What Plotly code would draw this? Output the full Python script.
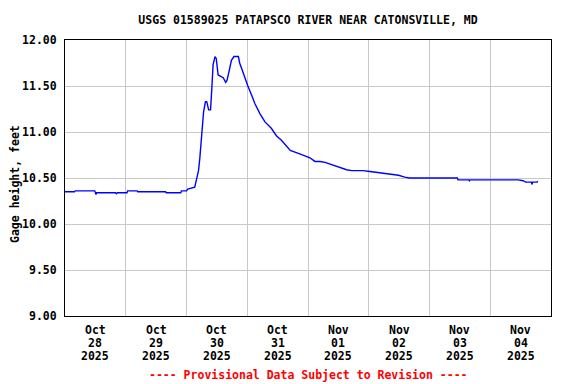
import plotly.graph_objects as go

title = "USGS 01589025 PATAPSCO RIVER NEAR CATONSVILLE, MD"
y_title = "Gage height, feet"
footer = "---- Provisional Data Subject to Revision ----"

times = [
    "2025-10-28 00:00", "2025-10-28 03:45", "2025-10-28 04:00", "2025-10-28 11:45",
    "2025-10-28 12:15", "2025-10-28 12:30", "2025-10-28 20:00", "2025-10-28 20:15",
    "2025-10-28 20:45", "2025-10-29 00:30", "2025-10-29 00:45", "2025-10-29 04:30",
    "2025-10-29 04:45", "2025-10-29 15:45", "2025-10-29 16:00", "2025-10-29 21:45",
    "2025-10-29 22:00", "2025-10-30 00:00", "2025-10-30 00:30", "2025-10-30 02:00",
    "2025-10-30 03:15", "2025-10-30 04:00", "2025-10-30 04:45", "2025-10-30 05:15",
    "2025-10-30 06:00", "2025-10-30 06:15", "2025-10-30 06:45", "2025-10-30 07:30",
    "2025-10-30 08:00", "2025-10-30 08:45", "2025-10-30 09:30", "2025-10-30 10:00",
    "2025-10-30 10:30", "2025-10-30 11:15", "2025-10-30 11:45", "2025-10-30 12:30",
    "2025-10-30 13:30", "2025-10-30 14:30", "2025-10-30 15:30", "2025-10-30 16:00",
    "2025-10-30 16:45", "2025-10-30 17:45", "2025-10-30 18:45", "2025-10-30 20:30",
    "2025-10-30 21:00", "2025-10-30 22:00", "2025-10-30 23:00", "2025-10-31 00:15",
    "2025-10-31 01:45", "2025-10-31 03:00", "2025-10-31 05:00", "2025-10-31 07:00",
    "2025-10-31 09:30", "2025-10-31 11:30", "2025-10-31 13:30", "2025-10-31 17:00",
    "2025-10-31 21:00", "2025-11-01 00:45", "2025-11-01 02:45", "2025-11-01 04:45",
    "2025-11-01 06:45", "2025-11-01 08:45", "2025-11-01 10:45", "2025-11-01 13:15",
    "2025-11-01 15:15", "2025-11-01 17:15", "2025-11-01 21:45", "2025-11-02 00:30",
    "2025-11-02 04:30", "2025-11-02 09:00", "2025-11-02 11:45", "2025-11-02 14:15",
    "2025-11-02 16:00", "2025-11-03 11:00", "2025-11-03 11:15", "2025-11-03 15:30",
    "2025-11-03 15:45", "2025-11-03 16:00", "2025-11-04 11:00", "2025-11-04 13:00",
    "2025-11-04 14:00", "2025-11-04 16:15", "2025-11-04 16:30", "2025-11-04 16:45",
    "2025-11-04 18:30", "2025-11-04 18:45",
]
gage = [
    10.35, 10.35, 10.36, 10.36,
    10.32, 10.34, 10.34, 10.33,
    10.34, 10.34, 10.36, 10.36,
    10.35, 10.35, 10.34, 10.34,
    10.36, 10.36, 10.38, 10.39,
    10.40, 10.49, 10.58, 10.71,
    10.96, 11.07, 11.22, 11.33,
    11.33, 11.24, 11.24, 11.47,
    11.73, 11.82, 11.80, 11.62,
    11.60, 11.59, 11.54, 11.56,
    11.65, 11.78, 11.82, 11.82,
    11.75, 11.67, 11.60, 11.50,
    11.40, 11.31, 11.20, 11.11,
    11.04, 10.96, 10.91, 10.80,
    10.76, 10.72, 10.68, 10.68,
    10.67, 10.65, 10.63, 10.61,
    10.59, 10.58, 10.58, 10.57,
    10.555, 10.545, 10.53, 10.51,
    10.50, 10.50, 10.48, 10.48,
    10.47, 10.48, 10.48, 10.47,
    10.455, 10.455, 10.43, 10.455,
    10.455, 10.465,
]

tick_vals = ["2025-10-28 12:00", "2025-10-29 12:00", "2025-10-30 12:00", "2025-10-31 12:00",
             "2025-11-01 12:00", "2025-11-02 12:00", "2025-11-03 12:00", "2025-11-04 12:00"]
tick_month = ["Oct", "Oct", "Oct", "Oct", "Nov", "Nov", "Nov", "Nov"]
tick_day = ["28", "29", "30", "31", "01", "02", "03", "04"]
tick_year = ["2025"] * 8
x_range = ["2025-10-28 00:00", "2025-11-05 00:00"]
y_range = [9.0, 12.0]

FONT = "DejaVu Sans Mono"
FS = 11.5

fig = go.Figure()
fig.add_trace(go.Scatter(x=times, y=gage, mode="lines",
                         line=dict(color="#0000FF", width=1.4), showlegend=False))

fig.update_layout(
    width=576, height=384,
    margin=dict(l=57, r=33, t=32, b=76.4, autoexpand=False),
    paper_bgcolor="white", plot_bgcolor="white",
    title=dict(text="<b>" + title + "</b>", xref="paper", x=0.5, xanchor="center",
               y=1 - 12 / 384, yanchor="middle",
               font=dict(family=FONT, size=FS, color="black")),
    font=dict(family=FONT, color="black"),
)
fig.update_xaxes(
    type="date", range=x_range, automargin=False,
    tickmode="array", tickvals=tick_vals, showticklabels=False,
    showgrid=False, ticks="",
    minor=dict(showgrid=True, gridcolor="#C8C8C8", gridwidth=1, dtick=86400000,
               tick0="2025-10-28 00:00", ticks=""),
    showline=True, linecolor="black", linewidth=1, mirror=True,
    zeroline=False,
)
fig.update_yaxes(
    range=y_range, dtick=0.5, tick0=9.0, tickformat=".2f", automargin=False,
    showgrid=True, gridcolor="#C8C8C8", gridwidth=1,
    ticks="", ticklabelstandoff=5,
    tickfont=dict(family=FONT, size=FS, color="black", weight="bold"),
    showline=True, linecolor="black", linewidth=1, mirror=True,
    zeroline=False,
)

fig.add_annotation(text="<b>" + y_title + "</b>", xref="paper", yref="paper",
                   x=-0.104, y=0.48, xanchor="center", yanchor="middle", textangle=-90,
                   showarrow=False, font=dict(family=FONT, size=FS, color="black"))

for tv, m, d, yr in zip(tick_vals, tick_month, tick_day, tick_year):
    for txt, yp in ((m, -0.0523), (d, -0.0983), (yr, -0.1466)):
        fig.add_annotation(text="<b>" + txt + "</b>", x=tv, xref="x", y=yp, yref="paper",
                           xanchor="center", yanchor="middle", showarrow=False,
                           font=dict(family=FONT, size=FS, color="black"))

fig.add_annotation(text="<b>" + footer + "</b>", xref="paper", yref="paper",
                   x=0.5, y=-0.2155, xanchor="center", yanchor="middle", showarrow=False,
                   font=dict(family=FONT, size=FS, color="#FF0000"))

fig.write_html("out.html")
